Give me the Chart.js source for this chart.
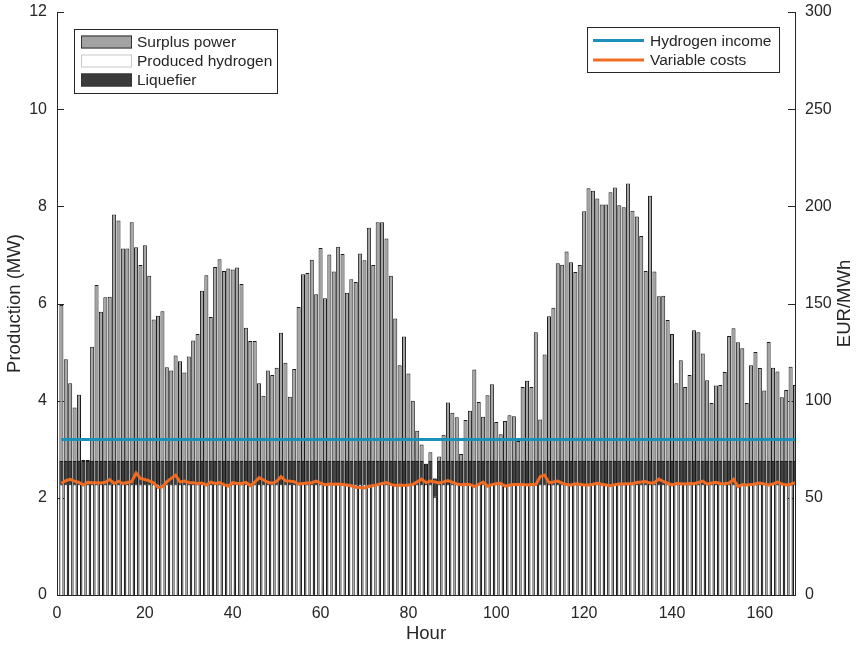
<!DOCTYPE html>
<html>
<head>
<meta charset="utf-8">
<script src="https://cdn.jsdelivr.net/npm/chart.js@4.4.1/dist/chart.umd.min.js"></script>
<style>
  html, body { margin: 0; padding: 0; background: #fff; }
  #wrap { width: 858px; height: 645px; }
</style>
</head>
<body>
<div id="wrap"><canvas id="chart" width="858" height="645"></canvas></div>
<script>
// hours 1..168 of the week
const hours = Array.from({length: 168}, (_, i) => i + 1);

// MW
const surplusPower = [
  5.97, 4.85, 4.36, 3.86, 4.12, 2.78, 2.78, 5.11, 6.38, 5.83, 6.13, 6.14,
  7.83, 7.71, 7.13, 7.13, 7.67, 7.16, 6.79, 7.20, 6.57, 5.67, 5.75, 5.84,
  4.69, 4.62, 4.93, 4.81, 4.58, 4.91, 5.24, 5.37, 6.26, 6.58, 5.72, 6.75,
  6.91, 6.67, 6.72, 6.70, 6.74, 6.40, 5.50, 5.23, 5.23, 4.36, 4.10, 4.62,
  4.53, 4.68, 5.40, 4.78, 4.08, 4.65, 5.93, 6.60, 6.63, 6.90, 6.19, 7.14,
  6.11, 7.01, 6.66, 7.17, 7.02, 6.22, 6.50, 6.44, 7.03, 6.89, 7.56, 6.79,
  7.67, 7.67, 7.34, 6.57, 5.69, 4.73, 5.32, 4.56, 4.00, 3.38, 3.10, 2.70,
  2.94, 2.40, 2.85, 3.30, 3.96, 3.75, 3.66, 2.90, 3.60, 3.79, 4.64, 3.97,
  3.67, 4.11, 4.34, 3.56, 3.31, 3.58, 3.70, 3.68, 3.17, 4.28, 4.41, 4.28,
  5.41, 3.61, 4.95, 5.74, 5.91, 6.83, 6.80, 7.07, 6.85, 6.65, 6.79, 7.90,
  8.37, 8.32, 8.16, 8.04, 8.04, 8.29, 8.39, 8.02, 7.98, 8.47, 7.91, 7.79,
  7.39, 6.67, 8.22, 6.66, 6.15, 6.16, 5.66, 5.37, 4.36, 4.83, 4.28, 4.53,
  5.45, 5.41, 4.97, 4.42, 3.95, 4.31, 4.32, 4.59, 5.33, 5.49, 5.20, 5.08,
  3.95, 4.73, 5.00, 4.67, 4.21, 5.21, 4.68, 4.60, 4.07, 4.22, 4.70, 4.32
];

const producedHydrogen = [
  2.28, 2.28, 2.28, 2.28, 2.28, 2.28, 2.28, 2.28, 2.28, 2.28, 2.28, 2.28,
  2.28, 2.28, 2.28, 2.28, 2.28, 2.28, 2.28, 2.28, 2.28, 2.28, 2.28, 2.28,
  2.28, 2.28, 2.28, 2.28, 2.28, 2.28, 2.28, 2.28, 2.28, 2.28, 2.28, 2.28,
  2.28, 2.28, 2.28, 2.28, 2.28, 2.28, 2.28, 2.28, 2.28, 2.28, 2.28, 2.28,
  2.28, 2.28, 2.28, 2.28, 2.28, 2.28, 2.28, 2.28, 2.28, 2.28, 2.28, 2.28,
  2.28, 2.28, 2.28, 2.28, 2.28, 2.28, 2.28, 2.28, 2.28, 2.28, 2.28, 2.28,
  2.28, 2.28, 2.28, 2.28, 2.28, 2.28, 2.28, 2.28, 2.28, 2.28, 2.28, 2.28,
  2.28, 2.02, 2.28, 2.28, 2.28, 2.28, 2.28, 2.28, 2.28, 2.28, 2.28, 2.28,
  2.28, 2.28, 2.28, 2.28, 2.28, 2.28, 2.28, 2.28, 2.28, 2.28, 2.28, 2.28,
  2.28, 2.28, 2.28, 2.28, 2.28, 2.28, 2.28, 2.28, 2.28, 2.28, 2.28, 2.28,
  2.28, 2.28, 2.28, 2.28, 2.28, 2.28, 2.28, 2.28, 2.28, 2.28, 2.28, 2.28,
  2.28, 2.28, 2.28, 2.28, 2.28, 2.28, 2.28, 2.28, 2.28, 2.28, 2.28, 2.28,
  2.28, 2.28, 2.28, 2.28, 2.28, 2.28, 2.28, 2.28, 2.28, 2.28, 2.28, 2.28,
  2.28, 2.28, 2.28, 2.28, 2.28, 2.28, 2.28, 2.28, 2.28, 2.28, 2.28, 2.28
];

const liquefier = [
  0.48, 0.48, 0.48, 0.48, 0.48, 0.48, 0.48, 0.48, 0.48, 0.48, 0.48, 0.48,
  0.48, 0.48, 0.48, 0.48, 0.48, 0.48, 0.48, 0.48, 0.48, 0.48, 0.48, 0.48,
  0.48, 0.48, 0.48, 0.48, 0.48, 0.48, 0.48, 0.48, 0.48, 0.48, 0.48, 0.48,
  0.48, 0.48, 0.48, 0.48, 0.48, 0.48, 0.48, 0.48, 0.48, 0.48, 0.48, 0.48,
  0.48, 0.48, 0.48, 0.48, 0.48, 0.48, 0.48, 0.48, 0.48, 0.48, 0.48, 0.48,
  0.48, 0.48, 0.48, 0.48, 0.48, 0.48, 0.48, 0.48, 0.48, 0.48, 0.48, 0.48,
  0.48, 0.48, 0.48, 0.48, 0.48, 0.48, 0.48, 0.48, 0.48, 0.48, 0.48, 0.42,
  0.48, 0.38, 0.48, 0.48, 0.48, 0.48, 0.48, 0.48, 0.48, 0.48, 0.48, 0.48,
  0.48, 0.48, 0.48, 0.48, 0.48, 0.48, 0.48, 0.48, 0.48, 0.48, 0.48, 0.48,
  0.48, 0.48, 0.48, 0.48, 0.48, 0.48, 0.48, 0.48, 0.48, 0.48, 0.48, 0.48,
  0.48, 0.48, 0.48, 0.48, 0.48, 0.48, 0.48, 0.48, 0.48, 0.48, 0.48, 0.48,
  0.48, 0.48, 0.48, 0.48, 0.48, 0.48, 0.48, 0.48, 0.48, 0.48, 0.48, 0.48,
  0.48, 0.48, 0.48, 0.48, 0.48, 0.48, 0.48, 0.48, 0.48, 0.48, 0.48, 0.48,
  0.48, 0.48, 0.48, 0.48, 0.48, 0.48, 0.48, 0.48, 0.48, 0.48, 0.48, 0.48
];

// EUR/MWh
const hydrogenIncome = [
  80, 80, 80, 80, 80, 80, 80, 80, 80, 80, 80, 80, 80, 80, 80, 80, 80, 80, 80, 80, 80, 80, 80, 80,
  80, 80, 80, 80, 80, 80, 80, 80, 80, 80, 80, 80, 80, 80, 80, 80, 80, 80, 80, 80, 80, 80, 80, 80,
  80, 80, 80, 80, 80, 80, 80, 80, 80, 80, 80, 80, 80, 80, 80, 80, 80, 80, 80, 80, 80, 80, 80, 80,
  80, 80, 80, 80, 80, 80, 80, 80, 80, 80, 80, 80, 80, 80, 80, 80, 80, 80, 80, 80, 80, 80, 80, 80,
  80, 80, 80, 80, 80, 80, 80, 80, 80, 80, 80, 80, 80, 80, 80, 80, 80, 80, 80, 80, 80, 80, 80, 80,
  80, 80, 80, 80, 80, 80, 80, 80, 80, 80, 80, 80, 80, 80, 80, 80, 80, 80, 80, 80, 80, 80, 80, 80,
  80, 80, 80, 80, 80, 80, 80, 80, 80, 80, 80, 80, 80, 80, 80, 80, 80, 80, 80, 80, 80, 80, 80, 80
];

const variableCosts = [
  57.5, 58.8, 59.5, 58.6, 57.9, 56.6, 58.0, 57.8, 57.8, 57.6, 58.0, 59.4,
  57.4, 58.6, 57.4, 57.9, 58.3, 62.8, 60.0, 59.4, 58.7, 57.7, 55.3, 55.6,
  58.3, 60.0, 61.7, 58.1, 58.6, 57.9, 57.8, 57.4, 57.6, 56.6, 58.1, 57.4,
  57.8, 56.8, 56.1, 57.8, 57.4, 57.4, 57.9, 56.3, 58.0, 60.4, 59.2, 58.0,
  57.5, 58.5, 60.9, 58.8, 58.6, 58.3, 57.1, 57.4, 57.6, 57.8, 58.6, 57.6,
  56.8, 57.1, 57.0, 57.1, 56.9, 56.6, 56.2, 55.5, 55.3, 55.1, 55.8, 56.3,
  56.8, 57.4, 57.9, 56.9, 56.3, 56.6, 56.3, 56.6, 56.9, 58.2, 59.6, 57.8,
  58.6, 58.2, 57.6, 58.2, 58.9, 58.0, 57.2, 56.7, 57.0, 56.9, 55.8, 57.0,
  58.1, 56.0, 56.8, 57.2, 57.5, 56.0, 56.6, 56.8, 56.8, 56.8, 56.6, 56.8,
  56.8, 60.9, 61.7, 57.8, 58.2, 58.6, 57.6, 56.8, 56.6, 57.2, 57.0, 56.6,
  56.6, 57.0, 57.5, 57.0, 56.6, 56.2, 56.8, 57.1, 57.1, 57.3, 57.3, 57.9,
  58.1, 58.4, 57.6, 57.8, 59.7, 58.4, 57.5, 56.6, 57.4, 57.3, 57.1, 57.4,
  57.3, 57.9, 58.6, 57.0, 57.6, 58.0, 57.4, 57.2, 57.6, 59.5, 55.8, 56.8,
  56.6, 56.8, 57.2, 57.6, 57.2, 56.6, 57.2, 58.1, 57.2, 56.6, 57.0, 57.8
];

const xTicks = [0, 20, 40, 60, 80, 100, 120, 140, 160];

const axisColor = '#262626';
const fontFamily = '"Liberation Sans", Arial, Helvetica, sans-serif';
const colors = {
  surplus: '#a3a3a3',
  hydrogen: '#ffffff',
  liquefier: '#3b3b3b',
  edge: '#1a1a1a',
  income: '#1a90bb',
  costs: '#ef6c22'
};

function pts(arr) {
  return arr.map((v, i) => ({x: hours[i], y: v}));
}

Chart.defaults.font.family = fontFamily;
Chart.defaults.color = axisColor;

// ticks pointing inward, right axis label, the two legend boxes
const decor = {
  id: 'decor',
  beforeDatasetsDraw(chart) {
    const {ctx, chartArea: a, scales} = chart;
    ctx.save();
    ctx.strokeStyle = axisColor;
    ctx.lineWidth = 1;
    ctx.beginPath();
    scales.y.ticks.forEach(t => {
      const py = Math.round(scales.y.getPixelForValue(t.value)) + 0.5;
      ctx.moveTo(a.left, py); ctx.lineTo(a.left + 7, py);
    });
    scales.y2.ticks.forEach(t => {
      const py = Math.round(scales.y2.getPixelForValue(t.value)) + 0.5;
      ctx.moveTo(a.right, py); ctx.lineTo(a.right - 7, py);
    });
    scales.x.ticks.forEach(t => {
      const px = Math.round(scales.x.getPixelForValue(t.value)) + 0.5;
      ctx.moveTo(px, a.bottom); ctx.lineTo(px, a.bottom - 7);
    });
    ctx.stroke();
    ctx.restore();
  },
  afterDraw(chart) {
    const {ctx, chartArea: a} = chart;
    ctx.save();
    // right y label, reading bottom to top
    ctx.fillStyle = axisColor;
    ctx.font = '18.5px ' + fontFamily;
    ctx.textAlign = 'center';
    ctx.textBaseline = 'middle';
    ctx.translate(845, (a.top + a.bottom) / 2);
    ctx.rotate(-Math.PI / 2);
    ctx.fillText('EUR/MWh', 0, 0);
    ctx.restore();

    ctx.save();
    ctx.font = '15.5px ' + fontFamily;
    ctx.textBaseline = 'middle';
    ctx.lineWidth = 1;

    // bar legend
    ctx.fillStyle = '#fff';
    ctx.fillRect(74, 29, 203, 64);
    ctx.strokeStyle = axisColor;
    ctx.strokeRect(74.5, 29.5, 203, 64);
    const barItems = [
      ['Surplus power', colors.surplus, '#333'],
      ['Produced hydrogen', colors.hydrogen, '#c8c8c8'],
      ['Liquefier', colors.liquefier, '#333']
    ];
    barItems.forEach((it, i) => {
      const cy = 41.5 + i * 19;
      ctx.fillStyle = it[1];
      ctx.fillRect(81, cy - 6, 51, 13);
      ctx.strokeStyle = it[2];
      ctx.strokeRect(81.5, cy - 5.5, 50, 12);
      ctx.fillStyle = axisColor;
      ctx.fillText(it[0], 137, cy + 1);
    });

    // line legend
    ctx.fillStyle = '#fff';
    ctx.fillRect(587, 27, 192, 45);
    ctx.strokeStyle = axisColor;
    ctx.strokeRect(587.5, 27.5, 192, 45);
    const lineItems = [
      ['Hydrogen income', colors.income],
      ['Variable costs', colors.costs]
    ];
    lineItems.forEach((it, i) => {
      const cy = 40.5 + i * 19.5;
      ctx.strokeStyle = it[1];
      ctx.lineWidth = 3;
      ctx.beginPath();
      ctx.moveTo(593, cy); ctx.lineTo(644, cy);
      ctx.stroke();
      ctx.fillStyle = axisColor;
      ctx.fillText(it[0], 650, cy + 1);
    });
    ctx.restore();
  }
};

const barStyle = {
  type: 'bar',
  yAxisID: 'y',
  borderColor: colors.edge,
  borderWidth: 1,
  barPercentage: 0.92,
  categoryPercentage: 1,
  grouped: false
};

function noVPad(s) {
  s.paddingTop = 0;
  s.paddingBottom = 0;
}

new Chart(document.getElementById('chart'), {
  data: {
    datasets: [
      {
        type: 'line', label: 'Hydrogen income', data: pts(hydrogenIncome), yAxisID: 'y2',
        borderColor: colors.income, borderWidth: 3, pointRadius: 0, order: 0
      },
      {
        type: 'line', label: 'Variable costs', data: pts(variableCosts), yAxisID: 'y2',
        borderColor: colors.costs, borderWidth: 3, pointRadius: 0, order: 0
      },
      Object.assign({}, barStyle, {
        label: 'Produced hydrogen', data: pts(producedHydrogen), stack: 'h',
        backgroundColor: colors.hydrogen, order: 2
      }),
      Object.assign({}, barStyle, {
        label: 'Liquefier', data: pts(liquefier), stack: 'h',
        backgroundColor: colors.liquefier, order: 2
      }),
      Object.assign({}, barStyle, {
        label: 'Surplus power', data: pts(surplusPower), stack: 's',
        backgroundColor: colors.surplus, order: 3
      })
    ]
  },
  options: {
    responsive: false,
    animation: false,
    layout: {padding: {top: 12, left: 0, right: 0, bottom: 0}},
    plugins: {legend: {display: false}, tooltip: {enabled: false}},
    scales: {
      x: {
        type: 'linear', min: 0, max: 168, offset: false,
        grid: {display: false, drawTicks: false},
        border: {display: true, color: axisColor, width: 1},
        afterBuildTicks: s => { s.ticks = xTicks.map(v => ({value: v})); },
        ticks: {font: {size: 16}, padding: 9, maxRotation: 0},
        title: {display: true, text: 'Hour', font: {size: 18.5}, padding: {top: 0, bottom: 0}},
        afterFit: s => { s.height = 50; s.paddingLeft = 0; s.paddingRight = 0; }
      },
      y: {
        type: 'linear', position: 'left', min: 0, max: 12, stacked: true,
        grid: {display: false, drawTicks: false},
        border: {display: true, color: axisColor, width: 1},
        ticks: {stepSize: 2, font: {size: 16}, padding: 10},
        title: {display: true, text: 'Production (MW)', font: {size: 18.5}, padding: {top: 4, bottom: 0}},
        afterFit: s => { s.width = 57; noVPad(s); }
      },
      y2: {
        type: 'linear', position: 'right', min: 0, max: 300,
        grid: {display: false, drawTicks: false},
        border: {display: true, color: axisColor, width: 1},
        ticks: {stepSize: 50, font: {size: 16}, padding: 10},
        afterFit: s => { s.width = 63; noVPad(s); }
      }
    }
  },
  plugins: [decor]
});
</script>
</body>
</html>
